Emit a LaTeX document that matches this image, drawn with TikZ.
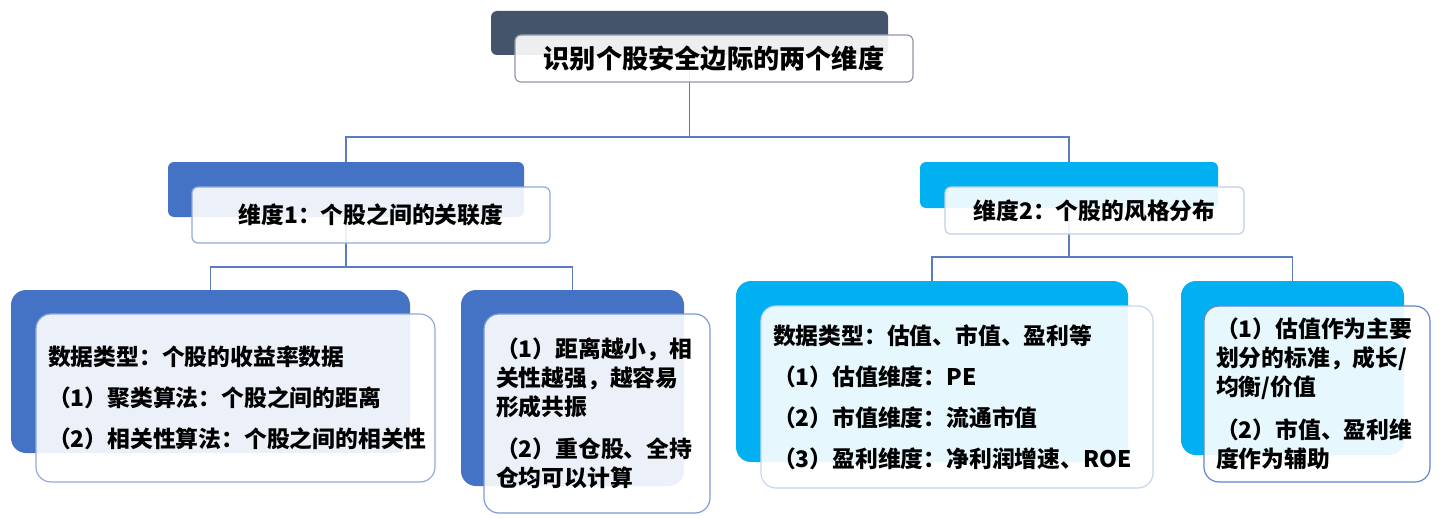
\documentclass[tikz,border=0pt]{standalone}
\usepackage{fontspec}
\setmainfont{Noto Sans CJK SC}
\usepackage{xcolor}
\usetikzlibrary{backgrounds}
\definecolor{slate}{HTML}{44546A}
\definecolor{royal}{HTML}{4472C4}
\definecolor{skyc}{HTML}{00B0F0}
\definecolor{linkc}{HTML}{5B7CC0}

\begin{document}
\begin{tikzpicture}[x=0.5pt,y=-0.5pt,
  backbox/.style={draw=none,inner sep=0pt},
  frontbox/.style={draw,line width=0.6pt,fill=white,fill opacity=0.9,text opacity=1,
    inner xsep=6pt,inner ysep=0pt},
  headbox/.style={frontbox,rounded corners=3pt,align=center,
    font=\bfseries\fontsize{11.4pt}{14pt}\selectfont},
  leafbox/.style={frontbox,rounded corners=7.5pt,align=left,
    font=\bfseries\fontsize{11.4pt}{14.5pt}\selectfont},
  link/.style={linkc,line width=0.9pt}]
  \useasboundingbox (0,0) rectangle (1440,519);
  % back plates
  \foreach \n/\x/\y/\w/\h/\r/\c in {topb/689.5/33/198.5/22/3/slate,
      d1b/346/189.5/178/27.5/3/royal, d2b/1069/185/149/23/3/skyc,
      ab/210.5/371.5/199.5/81.5/7.5/royal, bb/572.5/388/111.5/98/7.5/royal,
      cb/932/371.5/196/90.5/7.5/skyc, eb/1292.5/368/111.5/87/7.5/skyc} {
    \node[backbox,fill=\c,rounded corners=\r pt,minimum width=\w pt,minimum height=\h pt]
      (\n) at (\x,\y) {};
  }
  % front boxes
  \node[headbox,draw=slate!60,rounded corners=3pt,minimum width=199pt,minimum height=23.5pt,
    font=\bfseries\fontsize{13.1pt}{16pt}\selectfont] (top) at (714,58.5) {识别个股安全边际的两个维度};
  \node[headbox,draw=royal!60,minimum width=179pt,minimum height=28pt] (d1) at (371,215)
    {维度1：个股之间的关联度};
  \node[headbox,draw=royal!35,minimum width=149.5pt,minimum height=23.5pt] (d2) at (1094.5,210.5)
    {维度2：个股的风格分布};
  \node[leafbox,draw=royal!60,text width=187.5pt,minimum height=84pt] (a) at (235.5,398)
    {数据类型：个股的收益率数据\\[6pt]（1）聚类算法：个股之间的距离\\[6pt]（2）相关性算法：个股之间的相关性};
  \node[leafbox,draw=royal!70,text width=101pt,minimum height=99.5pt] (b) at (597,413.5)
    {（1）距离越小，相\\关性越强，越容易\\形成共振\\[6.5pt]（2）重仓股、全持\\仓均可以计算};
  \node[leafbox,draw=royal!30,text width=184pt,minimum height=91pt] (c) at (957,397)
    {数据类型：估值、市值、盈利等\\[6pt]（1）估值维度：PE\\[6pt]（2）市值维度：流通市值\\[6pt]（3）盈利维度：净利润增速、ROE};
  \node[leafbox,draw=royal!85,text width=101pt,minimum height=88pt] (e) at (1317,394)
    {（1）估值作为主要\\划分的标准，成长/\\均衡/价值\\[7pt]（2）市值、盈利维\\度作为辅助};
  % connectors
  \begin{scope}[on background layer]
    \coordinate (j0) at (689.5,137);
    \coordinate (j1) at (346,267);
    \coordinate (j2) at (1069,257);
    \draw[link] (topb.center) -- (j0) -| (d1b.center);
    \draw[link] (j0) -| (d2b.center);
    \draw[link] (d1b.center) -- (j1) -| (ab.center);
    \draw[link] (j1) -| (bb.center);
    \draw[link] (d2b.center) -- (j2) -| (cb.center);
    \draw[link] (j2) -| (eb.center);
  \end{scope}
\end{tikzpicture}
\end{document}
